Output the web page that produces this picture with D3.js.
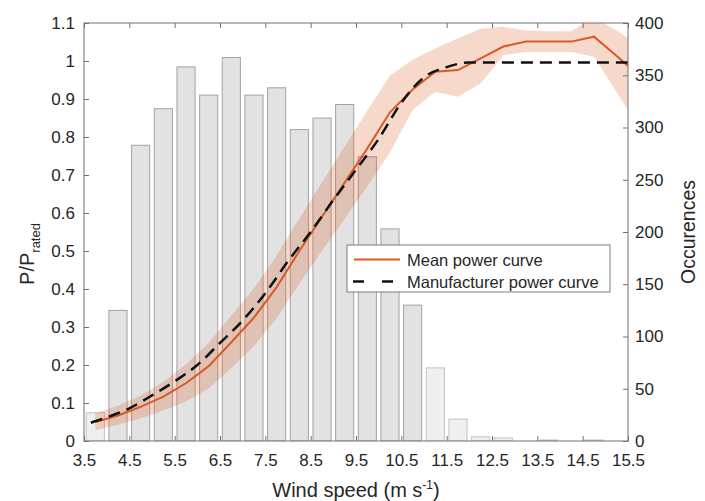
<!DOCTYPE html>
<html>
<head>
<meta charset="utf-8">
<script src="https://cdn.jsdelivr.net/npm/d3@7"></script>
<style>
  body { margin: 0; background: #fff; }
  text { font-family: "Liberation Sans", Arial, Helvetica, sans-serif; fill: #262626; }
</style>
</head>
<body>
<script>
var width = 705, height = 501;
var margin = {top: 23, right: 77, bottom: 60, left: 84};

// tick labels
var xTicks = [3.5, 4.5, 5.5, 6.5, 7.5, 8.5, 9.5, 10.5, 11.5, 12.5, 13.5, 14.5, 15.5];
var powerTicks = [0, 0.1, 0.2, 0.3, 0.4, 0.5, 0.6, 0.7, 0.8, 0.9, 1, 1.1];
var occTicks = [0, 50, 100, 150, 200, 250, 300, 350, 400];

// histogram of wind speed
var binCenters = [3.75, 4.25, 4.75, 5.25, 5.75, 6.25, 6.75, 7.25, 7.75, 8.25, 8.75, 9.25,
                  9.75, 10.25, 10.75, 11.25, 11.75, 12.25, 12.75, 13.25, 13.75, 14.25, 14.75, 15.25];
var occurences = [27, 125, 283, 318, 358, 331, 367, 331, 338, 298, 309, 322,
                  272, 203, 130, 70, 21, 4, 3, 0, 1, 0, 1, 0];

// mean measured power curve with its spread
var meanSpeed = [3.75, 4.25, 4.75, 5.25, 5.75, 6.25, 6.75, 7.25, 7.75, 8.25, 8.75, 9.25,
                 9.75, 10.25, 10.75, 11.25, 11.75, 12.25, 12.75, 13.25, 13.75, 14.25, 14.75, 15.25, 15.5];
var meanPower = [0.050, 0.067, 0.090, 0.117, 0.152, 0.197, 0.260, 0.325, 0.405, 0.500, 0.590, 0.680,
                 0.770, 0.865, 0.925, 0.972, 0.976, 1.007, 1.038, 1.051, 1.051, 1.051, 1.064, 1.013, 0.987];
var meanLower = [0.028, 0.043, 0.060, 0.080, 0.104, 0.138, 0.192, 0.250, 0.323, 0.414, 0.500, 0.585,
                 0.670, 0.760, 0.871, 0.919, 0.906, 0.941, 1.015, 1.024, 1.024, 1.024, 1.011, 0.918, 0.871];
var meanUpper = [0.074, 0.093, 0.120, 0.155, 0.202, 0.258, 0.330, 0.402, 0.488, 0.586, 0.680, 0.775,
                 0.870, 0.962, 1.003, 1.033, 1.060, 1.085, 1.090, 1.080, 1.078, 1.078, 1.115, 1.080, 1.060];

// manufacturer power curve
var mfrSpeed = [3.65, 4.0, 4.5, 5.0, 5.5, 6.0, 6.5, 7.0, 7.5, 8.0, 8.5, 9.0, 9.5, 10.0, 10.5, 11.0, 11.5, 12.0, 15.5];
var mfrPower = [0.048, 0.062, 0.086, 0.120, 0.157, 0.200, 0.258, 0.317, 0.389, 0.473, 0.550, 0.634,
                0.714, 0.795, 0.890, 0.957, 0.984, 0.996, 0.996];

var svg = d3.select("body").append("svg")
    .attr("width", width)
    .attr("height", height);

var x = d3.scaleLinear().domain([3.5, 15.5]).range([margin.left, width - margin.right]);
var yP = d3.scaleLinear().domain([0, 1.1]).range([height - margin.bottom, margin.top]);
var yOcc = d3.scaleLinear().domain([0, 400]).range([height - margin.bottom, margin.top]);

var plotW = width - margin.right - margin.left;
var plotH = height - margin.bottom - margin.top;

svg.append("clipPath").attr("id", "plotclip")
  .append("rect")
    .attr("x", margin.left).attr("y", margin.top)
    .attr("width", plotW).attr("height", plotH);

var plot = svg.append("g").attr("clip-path", "url(#plotclip)");

// bars
var barW = x(0.4) - x(0);
plot.selectAll("rect.bar")
    .data(binCenters)
  .enter().append("rect")
    .attr("class", "bar")
    .attr("x", function(d) { return x(d) - barW / 2; })
    .attr("width", barW)
    .attr("y", function(d, i) { return yOcc(occurences[i]); })
    .attr("height", function(d, i) { return yOcc(0) - yOcc(occurences[i]); })
    .style("fill", function(d) { return (d < 4 || d > 11) ? "#efefef" : "#e2e2e2"; })
    .style("stroke", function(d) { return (d < 4 || d > 11) ? "#c4c4c4" : "#a3a3a3"; })
    .style("stroke-width", 1);

// spread band
var band = d3.area()
    .x(function(d) { return x(d); })
    .y0(function(d, i) { return yP(meanLower[i]); })
    .y1(function(d, i) { return yP(meanUpper[i]); });

plot.append("path")
    .attr("d", band(meanSpeed))
    .style("fill", "#D95319")
    .style("fill-opacity", 0.22)
    .style("stroke", "none");

var meanLine = d3.line()
    .x(function(d) { return x(d); })
    .y(function(d, i) { return yP(meanPower[i]); });

plot.append("path")
    .attr("d", meanLine(meanSpeed))
    .style("fill", "none")
    .style("stroke", "#D95a25")
    .style("stroke-width", 2);

var mfrLine = d3.line()
    .x(function(d) { return x(d); })
    .y(function(d, i) { return yP(mfrPower[i]); })
    .curve(d3.curveMonotoneX);

plot.append("path")
    .attr("d", mfrLine(mfrSpeed))
    .style("fill", "none")
    .style("stroke", "#111")
    .style("stroke-width", 2.5)
    .style("stroke-dasharray", "12,7");

// axes
var axisColor = "#707070";
function styleAxis(g) {
  g.selectAll("path.domain").remove();
  g.selectAll("line").style("stroke", axisColor);
  g.selectAll("text").style("font-size", "17px").style("fill", "#262626")
    .style("font-family", '"Liberation Sans", Arial, sans-serif');
}

svg.append("g")
    .attr("transform", "translate(0," + (height - margin.bottom) + ")")
    .call(d3.axisBottom(x).tickValues(xTicks).tickFormat(d3.format(".1f"))
      .tickSizeInner(-5).tickSizeOuter(0).tickPadding(13))
    .call(styleAxis);

svg.append("g")
    .attr("transform", "translate(0," + margin.top + ")")
    .call(d3.axisTop(x).tickValues(xTicks).tickFormat("")
      .tickSizeInner(-5).tickSizeOuter(0))
    .call(styleAxis);

svg.append("g")
    .attr("transform", "translate(" + margin.left + ",0)")
    .call(d3.axisLeft(yP).tickValues(powerTicks).tickFormat(d3.format("~g"))
      .tickSizeInner(-5).tickSizeOuter(0).tickPadding(9))
    .call(styleAxis);

svg.append("g")
    .attr("transform", "translate(" + (width - margin.right) + ",0)")
    .call(d3.axisRight(yOcc).tickValues(occTicks)
      .tickSizeInner(-5).tickSizeOuter(0).tickPadding(7))
    .call(styleAxis);

svg.append("rect")
    .attr("x", margin.left).attr("y", margin.top)
    .attr("width", plotW).attr("height", plotH)
    .style("fill", "none")
    .style("stroke", axisColor)
    .style("stroke-width", 1);

// axis titles
var xl = svg.append("text")
    .attr("x", (margin.left + width - margin.right) / 2)
    .attr("y", 497)
    .attr("text-anchor", "middle")
    .style("font-size", "20px");
xl.append("tspan").text("Wind speed (m s");
xl.append("tspan").attr("dy", -8).style("font-size", "12px").text("-1");
xl.append("tspan").attr("dy", 8).text(")");

var yl = svg.append("text")
    .attr("transform", "translate(34,254) rotate(-90)")
    .attr("text-anchor", "middle")
    .style("font-size", "20px");
yl.append("tspan").text("P/P");
yl.append("tspan").attr("dy", 6).style("font-size", "13px").text("rated");

svg.append("text")
    .attr("transform", "translate(695," + (margin.top + plotH / 2) + ") rotate(-90)")
    .attr("text-anchor", "middle")
    .style("font-size", "19.5px")
    .text("Occurences");

// legend
var legend = svg.append("g");
legend.append("rect")
    .attr("x", 347).attr("y", 245)
    .attr("width", 263).attr("height", 47)
    .style("fill", "#fff")
    .style("stroke", "#7a7a7a")
    .style("stroke-width", 1);
legend.append("line")
    .attr("x1", 354).attr("x2", 400).attr("y1", 259.5).attr("y2", 259.5)
    .style("stroke", "#D95a25").style("stroke-width", 2);
legend.append("line")
    .attr("x1", 353).attr("x2", 394).attr("y1", 281.5).attr("y2", 281.5)
    .style("stroke", "#111").style("stroke-width", 2.5)
    .style("stroke-dasharray", "11,18");
legend.append("text").attr("x", 407).attr("y", 266)
    .style("font-size", "16.5px").text("Mean power curve");
legend.append("text").attr("x", 407).attr("y", 288)
    .style("font-size", "16.5px").text("Manufacturer power curve");
</script>
</body>
</html>
